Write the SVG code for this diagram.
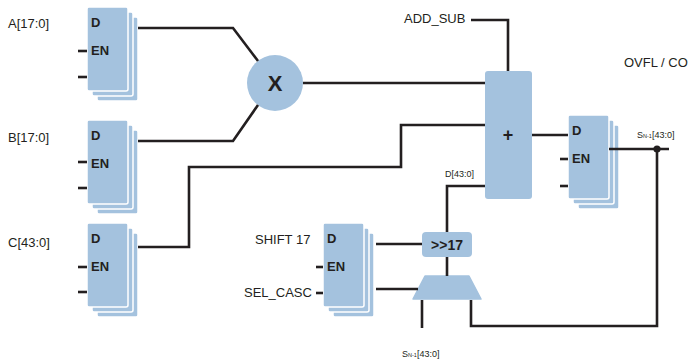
<svg xmlns="http://www.w3.org/2000/svg" width="688" height="362" viewBox="0 0 688 362">
<defs>
<style>
.blk{fill:#a4c2de;stroke:#ffffff;stroke-width:1.5}
.fill{fill:#a4c2de}
.w{fill:none;stroke:#231f20;stroke-width:2.6}
.lbl{font-family:"Liberation Sans",Arial,sans-serif;font-size:13px;fill:#231f20}
.pin{font-family:"Liberation Sans",Arial,sans-serif;font-size:13px;font-weight:bold;fill:#231f20}
.sm{font-family:"Liberation Sans",Arial,sans-serif;font-size:9px;fill:#231f20}
.big{font-family:"Liberation Sans",Arial,sans-serif;font-weight:bold;fill:#231f20;text-anchor:middle}
</style>
<g id="stack">
<rect class="blk" x="10" y="10" width="41" height="84" rx="2"/>
<rect class="blk" x="5" y="5" width="41" height="84" rx="2"/>
<rect class="blk" x="0" y="0" width="41" height="84" rx="2"/>
<text class="pin" x="4" y="20">D</text>
<text class="pin" x="4" y="48">EN</text>
</g>
</defs>

<g id="regA">
<use href="#stack" x="87" y="7"/>
<text class="lbl" x="8" y="28">A[17:0]</text>
</g>
<g id="regB">
<use href="#stack" x="87" y="120"/>
<text class="lbl" x="8" y="142">B[17:0]</text>
</g>
<g id="regC">
<use href="#stack" x="87" y="223"/>
<text class="lbl" x="8" y="247">C[43:0]</text>
</g>
<g id="mult">
<circle class="fill" cx="275" cy="83" r="28"/>
<text class="big" x="275" y="91" font-size="22">X</text>
</g>
<g id="adder">
<rect class="fill" x="485" y="71" width="47" height="128" rx="3"/>
<text class="big" x="508" y="141" font-size="18">+</text>
<text class="lbl" x="404" y="23">ADD_SUB</text>
<text class="sm" x="445" y="177">D[43:0]</text>
</g>
<g id="regOut">
<use href="#stack" x="568" y="115"/>
<text class="sm" x="637" y="138">S<tspan font-size="5.5">N-1</tspan>[43:0]</text>
<text class="lbl" x="624" y="67">OVFL / CO</text>
</g>
<g id="regShift">
<use href="#stack" x="323" y="223"/>
<text class="lbl" x="255" y="244">SHIFT 17</text>
<text class="lbl" x="244" y="297">SEL_CASC</text>
</g>
<g id="shift">
<rect class="fill" x="422" y="232" width="50" height="25" rx="4"/>
<text class="big" x="447" y="250" font-size="14">&gt;&gt;17</text>
</g>
<g id="mux">
<path class="fill" d="M425,276 L469,276 L481,299 L413,299 Z" stroke="#a4c2de" stroke-width="1.5" stroke-linejoin="round"/>
<text class="sm" x="402" y="357">S<tspan font-size="5.5">N-1</tspan>[43:0]</text>
</g>

<g id="connectors">
<polyline class="w" points="138,28 233,28 258,61"/>
<polyline class="w" points="138,141 233,141 258,105"/>
<line class="w" x1="303" y1="83" x2="485" y2="83"/>
<polyline class="w" points="138,247 189,247 189,167 401,167 401,125 485,125"/>
<polyline class="w" points="471,20 508,20 508,71"/>
<line class="w" x1="532" y1="135" x2="568" y2="135"/>
<line class="w" x1="609" y1="149" x2="669" y2="149"/>
<circle cx="657" cy="149" r="3.6" fill="#231f20"/>
<polyline class="w" points="657,149 657,326 471,326 471,300"/>
<polyline class="w" points="485,186 447,186 447,232"/>
<line class="w" x1="376" y1="244" x2="422" y2="244"/>
<line class="w" x1="447" y1="257" x2="447" y2="276"/>
<line class="w" x1="376" y1="289" x2="418" y2="289"/>
<line class="w" x1="422" y1="300" x2="422" y2="328"/>
<line class="w" x1="78" y1="51" x2="87" y2="51"/>
<line class="w" x1="78" y1="77" x2="87" y2="77"/>
<line class="w" x1="78" y1="162" x2="87" y2="162"/>
<line class="w" x1="78" y1="188" x2="87" y2="188"/>
<line class="w" x1="78" y1="267" x2="87" y2="267"/>
<line class="w" x1="78" y1="292" x2="87" y2="292"/>
<line class="w" x1="560" y1="159" x2="568" y2="159"/>
<line class="w" x1="560" y1="186" x2="568" y2="186"/>
<line class="w" x1="316" y1="267" x2="323" y2="267"/>
<line class="w" x1="316" y1="293" x2="323" y2="293"/>
</g>
</svg>
